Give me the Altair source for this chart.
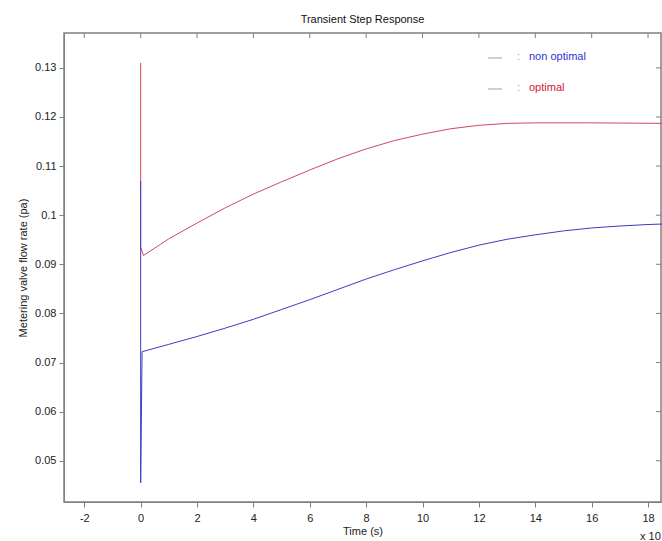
import altair as alt
import pandas as pd

# ---- data ----
red_t = [0, 0, 0.1, 1, 2, 3, 4, 5, 6, 7, 8, 9, 10, 11, 12, 13, 14, 16, 18.5]
red_v = [0.131, 0.0935, 0.0918, 0.0952, 0.0984, 0.1015, 0.1043, 0.1068, 0.1092,
         0.1115, 0.1135, 0.1152, 0.1165, 0.1176, 0.1183, 0.1187, 0.1188, 0.1188, 0.1187]

blue_t = [0, 0, 0.05, 1, 2, 3, 4, 5, 6, 7, 8, 9, 10, 11, 12, 13, 14, 15, 16, 17, 18, 18.5]
blue_v = [0.107, 0.0455, 0.0722, 0.0737, 0.0753, 0.0770, 0.0788, 0.0808, 0.0828,
          0.0849, 0.0870, 0.0889, 0.0907, 0.0924, 0.0939, 0.0951, 0.0960, 0.0968,
          0.0974, 0.0978, 0.0981, 0.0982]

x_ticks = [-2, 0, 2, 4, 6, 8, 10, 12, 14, 16, 18]
y_ticks = [0.05, 0.06, 0.07, 0.08, 0.09, 0.10, 0.11, 0.12, 0.13]
x_domain = [-2.72, 18.46]
y_domain = [0.0416, 0.1371]

legend_labels = ["non optimal", "optimal"]
legend_colors = ["#3333cc", "#cc2233"]

RED = "#d04a5e"
BLUE = "#3c3cc4"
FONT = "Liberation Sans"
AX = "#808080"

red_df = pd.DataFrame({"t": red_t, "v": red_v, "i": range(len(red_t))})
blue_df = pd.DataFrame({"t": blue_t, "v": blue_v, "i": range(len(blue_t))})
xt_df = pd.DataFrame({"t": x_ticks})
yt_df = pd.DataFrame({"v": y_ticks})

xs = alt.Scale(domain=x_domain, nice=False, zero=False)
ys = alt.Scale(domain=y_domain, nice=False, zero=False)

x_axis = alt.Axis(values=x_ticks, format="d", title="Time (s)", grid=False,
                  labelExpr="replace(datum.label, '\u2212', '-')",
                  domainColor=AX, tickColor=AX, tickSize=5, labelPadding=5,
                  labelColor="#222", titleColor="#222", labelFont=FONT, titleFont=FONT,
                  labelFontSize=11, titleFontSize=11, titleFontWeight="normal",
                  titlePadding=2)
y_axis = alt.Axis(values=y_ticks, format="~g", title="Metering valve flow rate (pa)",
                  grid=False, domainColor=AX, tickColor=AX, tickSize=5, labelPadding=3,
                  labelColor="#222", titleColor="#222", labelFont=FONT, titleFont=FONT,
                  labelFontSize=11, titleFontSize=11, titleFontWeight="normal",
                  titlePadding=6)

red_line = alt.Chart(red_df).mark_line(color=RED, strokeWidth=1).encode(
    x=alt.X("t:Q", scale=xs, axis=x_axis),
    y=alt.Y("v:Q", scale=ys, axis=y_axis),
    order="i:Q",
)
blue_line = alt.Chart(blue_df).mark_line(color=BLUE, strokeWidth=1).encode(
    x=alt.X("t:Q", scale=xs),
    y=alt.Y("v:Q", scale=ys),
    order="i:Q",
)

# inward-facing mirrored ticks on top and right edges
top_ticks = alt.Chart(xt_df).mark_rule(color=AX, strokeWidth=1).encode(
    x=alt.X("t:Q", scale=xs), y=alt.value(0), y2=alt.value(5)
)
right_ticks = alt.Chart(yt_df).mark_rule(color=AX, strokeWidth=1).encode(
    y=alt.Y("v:Q", scale=ys), x=alt.value(592), x2=alt.value(597)
)

layers = [red_line, blue_line, top_ticks, right_ticks]

legend_y = [24, 55]
for lab, col, yy in zip(legend_labels, legend_colors, legend_y):
    layers.append(
        alt.Chart(pd.DataFrame({"l": [lab]})).mark_rule(color="#a0a0a0", strokeWidth=1).encode(
            x=alt.value(424), x2=alt.value(438), y=alt.value(yy + 1))
    )
    layers.append(
        alt.Chart(pd.DataFrame({"l": [lab]})).mark_text(
            text=":", font=FONT, fontSize=11, color="#a0a0a0", align="left", baseline="middle"
        ).encode(x=alt.value(453), y=alt.value(yy))
    )
    layers.append(
        alt.Chart(pd.DataFrame({"l": [lab]})).mark_text(
            font=FONT, fontSize=11, color=col, align="left", baseline="middle"
        ).encode(x=alt.value(465), y=alt.value(yy), text="l:N")
    )

# exponent note under the right end of the x axis
layers.append(
    alt.Chart(pd.DataFrame({"l": ["x 10"]})).mark_text(
        font=FONT, fontSize=11, color="#222", align="left", baseline="middle"
    ).encode(x=alt.value(576), y=alt.value(504), text="l:N")
)

chart = alt.layer(*layers).properties(
    width=597,
    height=469,
    autosize=alt.AutoSizeParams(type="none"),
    padding={"left": 64, "top": 33, "right": 1, "bottom": 39},
    title=alt.TitleParams("Transient Step Response", font=FONT, fontSize=11,
                          fontWeight="normal", color="#111", offset=8, anchor="middle"),
    background="white",
).configure_view(stroke=AX, strokeWidth=1.5)

chart.save("out.html", embed_options={"renderer": "svg", "actions": False})
